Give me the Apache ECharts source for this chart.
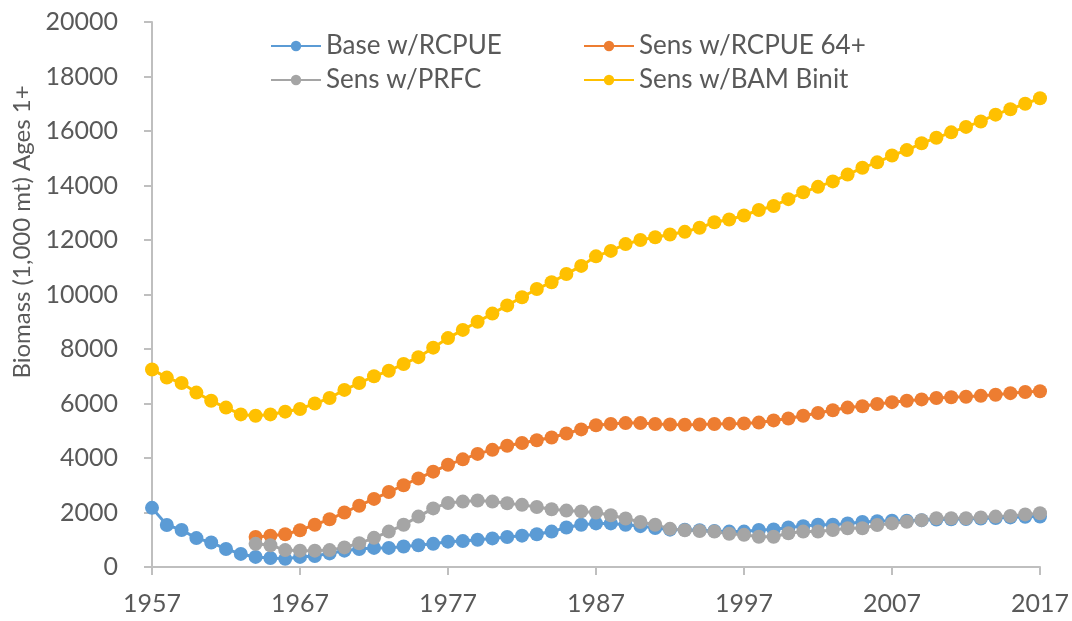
<!DOCTYPE html>
<html>
<head>
<meta charset="utf-8">
<script src="https://cdn.jsdelivr.net/npm/echarts@6/dist/echarts.min.js"></script>
<style>
  html, body { margin: 0; padding: 0; background: #ffffff; }
  #chart { width: 1072px; height: 621px; }
</style>
</head>
<body>
<div id="chart"></div>
<script>
var years = ['1957','1958','1959','1960','1961','1962','1963','1964','1965','1966',
    '1967','1968','1969','1970','1971','1972','1973','1974','1975','1976',
    '1977','1978','1979','1980','1981','1982','1983','1984','1985','1986',
    '1987','1988','1989','1990','1991','1992','1993','1994','1995','1996',
    '1997','1998','1999','2000','2001','2002','2003','2004','2005','2006',
    '2007','2008','2009','2010','2011','2012','2013','2014','2015','2016','2017'];

var baseRcpue = [2170,1540,1360,1060,900,660,480,370,330,300,
    370,400,500,600,660,700,700,750,800,850,
    930,950,1000,1050,1100,1150,1200,1300,1450,1550,
    1600,1600,1550,1500,1430,1370,1370,1350,1320,1300,
    1300,1360,1380,1450,1500,1550,1550,1600,1650,1680,
    1700,1700,1720,1740,1750,1760,1780,1800,1820,1840,1850];

var sensRcpue64 = [null,null,null,null,null,null,null,1100,1150,1200,
    1350,1550,1750,2000,2250,2500,2750,3000,3250,3500,
    3750,3950,4150,4300,4450,4550,4650,4750,4900,5050,
    5200,5250,5280,5280,5250,5230,5220,5230,5250,5260,
    5270,5300,5380,5450,5550,5650,5750,5850,5900,5980,
    6050,6100,6150,6200,6230,6250,6280,6320,6380,6420,6450];

var sensPrfc = [null,null,null,null,null,null,null,850,800,620,
    600,600,620,720,870,1070,1300,1550,1850,2150,
    2350,2400,2440,2400,2340,2280,2200,2120,2070,2040,
    2000,1900,1780,1650,1550,1400,1350,1320,1300,1220,
    1180,1110,1110,1240,1300,1300,1360,1420,1420,1540,
    1600,1660,1720,1790,1790,1790,1820,1850,1870,1930,1970];

var sensBamBinit = [7250,6950,6750,6400,6100,5850,5600,5550,5600,5700,
    5800,6000,6200,6500,6750,7000,7200,7450,7700,8050,
    8400,8700,9000,9300,9600,9900,10200,10450,10750,11050,
    11400,11600,11850,12000,12100,12200,12300,12450,12650,12750,
    12900,13100,13250,13500,13750,13950,14150,14400,14650,14850,
    15100,15300,15550,15750,15950,16150,16350,16600,16800,17000,17200];

var yTicks = { min: 0, max: 20000, step: 2000 };
var yTitle = 'Biomass (1,000 mt) Ages 1+';

var textColor = '#595959';
var axisColor = '#bfbfbf';
var fontFam = 'Lato, "Open Sans", sans-serif';

function lineSeries(name, data, color) {
    return {
        name: name,
        type: 'line',
        data: data,
        symbol: 'circle',
        symbolSize: 14,
        showAllSymbol: true,
        connectNulls: false,
        itemStyle: { color: color },
        lineStyle: { color: color, width: 3 },
        emphasis: { disabled: true },
        animation: false
    };
}

var chart = echarts.init(document.getElementById('chart'));
var option = {
    backgroundColor: '#ffffff',
    grid: { left: 152, right: 32, top: 22, bottom: 54 },
    legend: [{
        orient: 'vertical',
        left: 265,
        top: 28,
        itemWidth: 50,
        itemHeight: 13,
        itemGap: 8,
        data: ['Base w/RCPUE', 'Sens w/PRFC'],
        textStyle: { color: textColor, fontSize: 26, fontFamily: fontFam }
    }, {
        orient: 'vertical',
        left: 578,
        top: 28,
        itemWidth: 50,
        itemHeight: 13,
        itemGap: 8,
        data: ['Sens w/RCPUE 64+', 'Sens w/BAM Binit'],
        textStyle: { color: textColor, fontSize: 26, fontFamily: fontFam }
    }],
    xAxis: {
        type: 'category',
        data: years,
        boundaryGap: false,
        axisLine: { lineStyle: { color: axisColor, width: 2 } },
        axisTick: { show: true, interval: 9, length: 8, lineStyle: { color: axisColor, width: 2 } },
        axisLabel: { interval: 9, margin: 24, color: textColor, fontSize: 25, fontFamily: fontFam },
        splitLine: { show: false }
    },
    yAxis: {
        type: 'value',
        min: yTicks.min,
        max: yTicks.max,
        interval: yTicks.step,
        axisLine: { show: true, lineStyle: { color: axisColor, width: 2 } },
        axisTick: { show: true, length: 8, lineStyle: { color: axisColor, width: 2 } },
        axisLabel: {
            margin: 34,
            color: textColor,
            fontSize: 25,
            fontFamily: fontFam,
            formatter: function(v) { return String(v); }
        },
        splitLine: { show: false }
    },
    graphic: [{
        type: 'text',
        x: 22,
        y: 232,
        rotation: Math.PI / 2,
        style: {
            text: yTitle,
            fill: textColor,
            fontSize: 24,
            fontFamily: fontFam,
            align: 'center',
            verticalAlign: 'middle'
        }
    }],
    series: [
        lineSeries('Base w/RCPUE', baseRcpue, '#5B9BD5'),
        lineSeries('Sens w/RCPUE 64+', sensRcpue64, '#ED7D31'),
        lineSeries('Sens w/PRFC', sensPrfc, '#A5A5A5'),
        lineSeries('Sens w/BAM Binit', sensBamBinit, '#FFC000')
    ]
};
chart.setOption(option);
</script>
</body>
</html>
